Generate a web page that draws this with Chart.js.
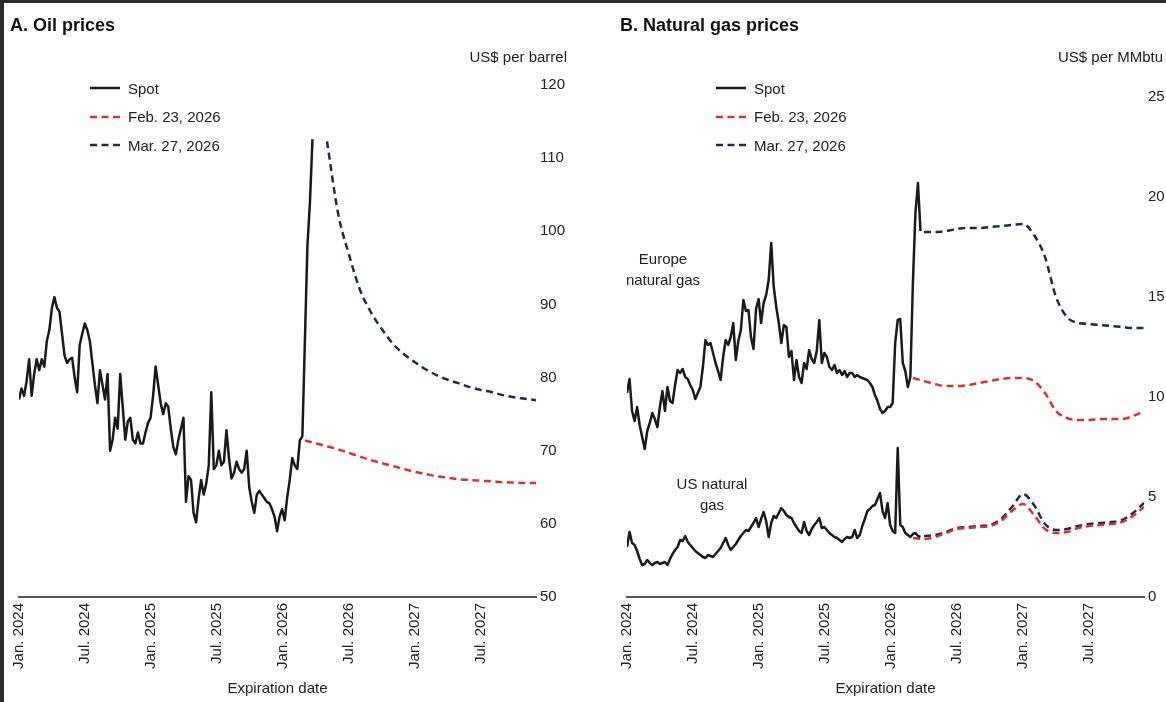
<!DOCTYPE html>
<html>
<head>
<meta charset="utf-8">
<script src="https://cdn.jsdelivr.net/npm/chart.js@4.4.1/dist/chart.umd.min.js"></script>
<style>
  body { margin: 0; width: 1166px; height: 702px; overflow: hidden; position: relative; background: #fff;
         font-family: 'Liberation Sans', Arial, sans-serif; color: #222; }
  .frame-top { position: absolute; left: 0; top: 0; width: 1166px; height: 3px; background: #2b2b2b; z-index: 5; }
  .frame-left { position: absolute; left: 0; top: 0; width: 4px; height: 702px; background: #2b2b2b; z-index: 5; }
  .panel { position: absolute; top: 0; width: 583px; height: 702px; }
  .panel canvas { position: absolute; left: 0; top: 0; }
  .title { position: absolute; top: 15px; font-weight: bold; font-size: 18px; color: #111; white-space: nowrap; }
  .unit { position: absolute; top: 48px; font-size: 15px; white-space: nowrap; }
  .legend { position: absolute; top: 74px; font-size: 15px; }
  .legend .row { height: 28.5px; display: flex; align-items: center; white-space: nowrap; }
  .legend svg { margin-right: 8px; }
  .note { position: absolute; font-size: 15px; text-align: center; line-height: 21px; white-space: nowrap; }
</style>
</head>
<body>
<div class="frame-top"></div>
<div class="frame-left"></div>

<div class="panel" style="left:0">
  <canvas id="oilChart" width="583" height="702"></canvas>
  <div class="title" style="left:10px">A. Oil prices</div>
  <div class="unit" style="right:16px">US$ per barrel</div>
  <div class="legend" style="left:90px">
    <div class="row"><svg width="30" height="4"><line x1="0" y1="2" x2="30" y2="2" stroke="#1a1a1a" stroke-width="2.5"/></svg>Spot</div>
    <div class="row"><svg width="30" height="4"><line x1="0" y1="2" x2="30" y2="2" stroke="#d7313c" stroke-width="2.5" stroke-dasharray="7,4.5"/></svg>Feb. 23, 2026</div>
    <div class="row"><svg width="30" height="4"><line x1="0" y1="2" x2="30" y2="2" stroke="#1b2a4e" stroke-width="2.5" stroke-dasharray="7,4.5"/></svg>Mar. 27, 2026</div>
  </div>
</div>

<div class="panel" style="left:583px">
  <canvas id="gasChart" width="583" height="702"></canvas>
  <div class="title" style="left:37px">B. Natural gas prices</div>
  <div class="unit" style="right:3px">US$ per MMbtu</div>
  <div class="legend" style="left:133px">
    <div class="row"><svg width="30" height="4"><line x1="0" y1="2" x2="30" y2="2" stroke="#1a1a1a" stroke-width="2.5"/></svg>Spot</div>
    <div class="row"><svg width="30" height="4"><line x1="0" y1="2" x2="30" y2="2" stroke="#d7313c" stroke-width="2.5" stroke-dasharray="7,4.5"/></svg>Feb. 23, 2026</div>
    <div class="row"><svg width="30" height="4"><line x1="0" y1="2" x2="30" y2="2" stroke="#1b2a4e" stroke-width="2.5" stroke-dasharray="7,4.5"/></svg>Mar. 27, 2026</div>
  </div>
  <div class="note" style="left:80px; top:248px; transform:translateX(-50%)">Europe<br>natural gas</div>
  <div class="note" style="left:129px; top:473px; transform:translateX(-50%)">US natural<br>gas</div>
</div>

<script>
// x axis is in months since Jan. 2024
const tickMonths = [0, 6, 12, 18, 24, 30, 36, 42];
const tickLabels = ['Jan. 2024', 'Jul. 2024', 'Jan. 2025', 'Jul. 2025', 'Jan. 2026', 'Jul. 2026', 'Jan. 2027', 'Jul. 2027'];
const lastMonth = 47;     // Dec. 2027
const weekStep = 0.23;    // one week, in months

// weekly spot prices, Jan. 2024 to late Mar. 2026
const oilSpot = [
  77, 78.5, 77.5, 79.5, 82.5, 77.5, 80.5, 82.5, 81, 82.5,
  81.5, 85, 86.5, 89.5, 91, 89.5, 89, 86, 83, 82,
  82.5, 82.7, 80, 78, 84.5, 86, 87.4, 86.5, 85, 82,
  79, 76.5, 81, 79, 77, 80.5, 70, 71.5, 74.5, 73,
  80.5, 76, 71.5, 74, 74.5, 71.5, 71, 72.5, 71, 71,
  72.5, 73.8, 74.5, 77.5, 81.5, 79, 76.5, 75, 76.5, 76,
  73, 70.5, 69.5, 71.5, 73, 74.5, 63, 66.5, 66, 61.5,
  60.2, 63.5, 66, 64, 65.5, 68, 78, 67.5, 68, 70,
  68, 68.5, 72.8, 69, 66.2, 67, 68.5, 67.5, 67, 67.5,
  70, 65, 63, 61.5, 64, 64.5, 64, 63.5, 63, 62.8,
  62, 61, 59, 61, 62, 60.5, 63.6, 66, 69, 68,
  67.5, 71.4, 72, 85, 98, 104, 112.6
];
const euGasSpot = [
  10.2, 10.9, 9.3, 8.8, 9.5, 8.6, 8.0, 7.4, 8.3, 8.7,
  9.2, 8.9, 8.5, 9.5, 10.3, 9.3, 10.5, 9.8, 9.7, 10.6,
  11.35, 11.2, 11.4, 11.0, 10.9, 10.6, 10.35, 9.9, 10.2, 10.5,
  11.5, 12.85, 12.6, 12.7, 12.2, 11.7, 11.3, 10.85, 12.0, 12.85,
  12.6, 13.0, 13.7, 11.85, 12.8, 13.35, 14.85, 14.3, 14.35, 13.0,
  12.4, 14.4, 14.9, 13.7, 14.7, 15.1, 15.85, 17.7, 15.5, 14.5,
  13.7, 12.7, 13.6, 13.5, 12.0, 12.3, 10.85, 11.85, 11.0, 10.7,
  11.7, 11.4, 12.35, 11.9, 11.7, 12.3, 13.85, 11.7, 12.2, 12.0,
  11.5, 11.35, 11.6, 11.2, 11.35, 11.1, 11.3, 11.0, 11.2, 11.2,
  11.0, 11.1, 11.0, 10.95, 10.9, 10.85, 10.7, 10.5, 10.1, 9.8,
  9.4, 9.2, 9.3, 9.5, 9.5, 9.7, 12.7, 13.85, 13.9, 11.7,
  11.3, 10.5, 11.0, 15.7, 19.2, 20.7, 18.3
];
const usGasSpot = [
  2.5, 3.25, 2.7, 2.6, 2.3, 1.9, 1.6, 1.65, 1.85, 1.7,
  1.6, 1.7, 1.75, 1.65, 1.7, 1.75, 1.6, 1.9, 2.15, 2.35,
  2.5, 2.85, 2.8, 3.05, 2.75, 2.6, 2.45, 2.3, 2.2, 2.1,
  2.0, 1.95, 2.1, 2.05, 2.0, 2.15, 2.3, 2.45, 2.7, 2.95,
  2.6, 2.35, 2.5, 2.65, 2.85, 3.05, 3.2, 3.35, 3.3, 3.5,
  3.7, 3.95, 3.5, 3.9, 4.25, 3.8, 3.0, 3.7, 4.05, 3.95,
  4.2, 4.45, 4.3, 4.1, 4.0, 3.95, 3.7, 3.5, 3.3, 3.2,
  3.75, 3.3, 3.1, 3.4, 3.6, 3.75, 3.95, 3.45, 3.5, 3.35,
  3.2, 3.1, 3.0, 2.95, 2.85, 2.75, 2.9, 3.0, 2.95, 3.0,
  3.35, 2.95, 3.1, 3.55, 3.9, 4.3, 4.4, 4.55, 4.6, 4.9,
  5.2, 4.3, 3.95, 4.7, 3.6, 3.3, 3.2, 7.45, 3.6, 3.5,
  3.2, 3.1, 3.0, 3.15, 3.2, 3.05, 3.0
];

// monthly futures curves (first contract month given as month index)
const febStart = 26;   // Mar. 2026
const oilFeb = [71.4, 71, 70.6, 70.2, 69.7, 69.2, 68.7, 68.3, 67.9, 67.5, 67.1, 66.8, 66.5, 66.3, 66.1, 66, 65.9, 65.8, 65.7, 65.65, 65.6, 65.6];
const euFeb = [10.95, 10.8, 10.65, 10.55, 10.55, 10.6, 10.7, 10.8, 10.9, 10.95, 10.95, 10.8, 10.2, 9.3, 8.95, 8.85, 8.85, 8.9, 8.9, 8.9, 9.05, 9.3];
const usFeb = [2.95, 2.9, 3.0, 3.2, 3.4, 3.45, 3.5, 3.55, 3.8, 4.3, 4.65, 4.1, 3.4, 3.2, 3.25, 3.45, 3.55, 3.6, 3.65, 3.75, 4.05, 4.5];

const oilMarStart = 28; // May 2026
const oilMar = [112.3, 102.5, 96.8, 92, 88.9, 86.6, 84.6, 83.2, 82.1, 81.1, 80.3, 79.7, 79.2, 78.7, 78.3, 78, 77.6, 77.3, 77.1, 76.9];
const gasMarStart = 27; // Apr. 2026
const euMar = [18.25, 18.25, 18.3, 18.4, 18.45, 18.45, 18.5, 18.55, 18.6, 18.65, 18.1, 17.0, 15.0, 14.0, 13.7, 13.65, 13.6, 13.55, 13.5, 13.45, 13.45];
const usMar = [3.05, 3.1, 3.25, 3.45, 3.5, 3.55, 3.6, 3.9, 4.5, 5.15, 4.6, 3.65, 3.35, 3.4, 3.55, 3.65, 3.7, 3.75, 3.85, 4.2, 4.7];

const BLACK = '#1a1a1a', RED = '#d7313c', NAVY = '#1b2a4e';

Chart.defaults.font.family = "'Liberation Sans', Arial, sans-serif";
Chart.defaults.color = '#222';

const spotPts = vals => vals.map((v, i) => ({ x: i * weekStep, y: v }));
const curvePts = (start, vals) => vals.map((v, i) => ({ x: start + i, y: v }));

function spotSet(vals) {
  return { data: spotPts(vals), borderColor: BLACK, borderWidth: 2.5, pointRadius: 0, tension: 0, borderJoinStyle: 'round' };
}
function curveSet(start, vals, color) {
  return { data: curvePts(start, vals), borderColor: color, borderWidth: 2.5, borderDash: [7, 4.5], pointRadius: 0, cubicInterpolationMode: 'monotone' };
}

function makeChart(id, datasets, yMin, yMax, yStep, top, left, yWidth) {
  return new Chart(document.getElementById(id), {
    type: 'line',
    data: { datasets },
    options: {
      responsive: false, animation: false, events: [],
      layout: { padding: { top: top, left: left, right: 0, bottom: 0 } },
      plugins: { legend: { display: false }, tooltip: { enabled: false } },
      scales: {
        x: {
          type: 'linear', min: 0, max: lastMonth,
          afterBuildTicks: s => { s.ticks = tickMonths.map(v => ({ value: v })); },
          afterFit: s => { s.height = 105; },
          ticks: {
            autoSkip: false, minRotation: 90, maxRotation: 90, padding: 6,
            font: { size: 15 }, color: '#222',
            callback: v => tickLabels[tickMonths.indexOf(v)] ?? ''
          },
          grid: { display: false, drawTicks: false },
          border: { display: true, color: '#555', width: 2 },
          title: { display: true, text: 'Expiration date', font: { size: 15 }, color: '#222', padding: { top: 0, bottom: 4 } }
        },
        y: {
          position: 'right', min: yMin, max: yMax,
          afterFit: s => { s.width = yWidth; },
          ticks: { stepSize: yStep, padding: 4, font: { size: 15 }, color: '#222' },
          grid: { display: false, drawTicks: false },
          border: { display: false }
        }
      }
    }
  });
}

makeChart('oilChart', [
  spotSet(oilSpot),
  curveSet(febStart, oilFeb, RED),
  curveSet(oilMarStart, oilMar, NAVY)
], 50, 120, 10, 85, 19, 47);

makeChart('gasChart', [
  spotSet(euGasSpot),
  spotSet(usGasSpot),
  curveSet(febStart, euFeb, RED),
  curveSet(gasMarStart, euMar, NAVY),
  curveSet(febStart, usFeb, RED),
  curveSet(gasMarStart, usMar, NAVY)
], 0, 25, 5, 97, 44, 22);
</script>
</body>
</html>
